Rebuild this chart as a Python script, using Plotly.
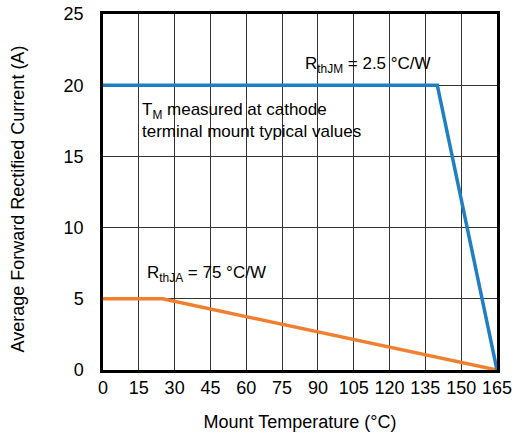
import plotly.graph_objects as go

jm_x = [0, 140, 165]
jm_y = [20, 20, 0]
ja_x = [0, 25, 165]
ja_y = [5, 5, 0]
x_ticks = list(range(0, 166, 15))
y_ticks = [0, 5, 10, 15, 20, 25]

FONT = "Liberation Sans, Arial, sans-serif"
FS = 18
FA = 17

fig = go.Figure()
fig.add_trace(go.Scatter(x=ja_x, y=ja_y, mode="lines",
                         line=dict(color="#F07F2F", width=3.5), showlegend=False))
fig.add_trace(go.Scatter(x=jm_x, y=jm_y, mode="lines",
                         line=dict(color="#1F7FC2", width=3.5), showlegend=False))

fig.add_annotation(x=111, y=20.5, xref="x", yref="y", text="R<sub>thJM</sub> = 2.5 °C/W",
                   showarrow=False, xanchor="center", yanchor="bottom",
                   font=dict(family=FONT, size=FA, color="black"))
fig.add_annotation(x=15.5, y=19.1, xref="x", yref="y",
                   text="T<sub>M</sub> measured at cathode<br>terminal mount typical values",
                   showarrow=False, xanchor="left", yanchor="top", align="left",
                   font=dict(family=FONT, size=FA, color="black"))
fig.add_annotation(x=17.5, y=5.8, xref="x", yref="y", text="R<sub>thJA</sub> = 75 °C/W",
                   showarrow=False, xanchor="left", yanchor="bottom",
                   font=dict(family=FONT, size=FA, color="black"))
# y-axis title (placed as rotated text to match reference position)
fig.add_annotation(x=-0.215, y=0.48, xref="paper", yref="paper",
                   text="Average Forward Rectified Current (A)", textangle=-90,
                   showarrow=False, xanchor="center", yanchor="middle",
                   font=dict(family=FONT, size=FS, color="black"))

fig.update_xaxes(range=[0, 165], tickvals=x_ticks, ticktext=[str(v) for v in x_ticks],
                 showgrid=True, gridcolor="#333333", gridwidth=1,
                 showline=True, linecolor="black", linewidth=2.5, mirror=True,
                 zeroline=False, ticks="", ticklabelstandoff=0, ticklabeloverflow="allow",
                 title=dict(text="Mount Temperature (°C)", font=dict(family=FONT, size=FS, color="black"), standoff=19),
                 tickfont=dict(family=FONT, size=FS, color="black"), automargin=False)
fig.update_yaxes(range=[0, 25], tickvals=y_ticks,
                 showgrid=True, gridcolor="#333333", gridwidth=1,
                 showline=True, linecolor="black", linewidth=2.5, mirror=True,
                 zeroline=False, ticks="", ticklabelstandoff=13,
                 tickfont=dict(family=FONT, size=FS, color="black"), automargin=False)

fig.update_layout(width=512, height=435, margin=dict(l=103, r=15, t=14, b=65),
                  plot_bgcolor="white", paper_bgcolor="white",
                  font=dict(family=FONT, color="black"))

fig.write_html("out.html", config={"displayModeBar": False},
               post_script="document.body.style.margin='0';")
